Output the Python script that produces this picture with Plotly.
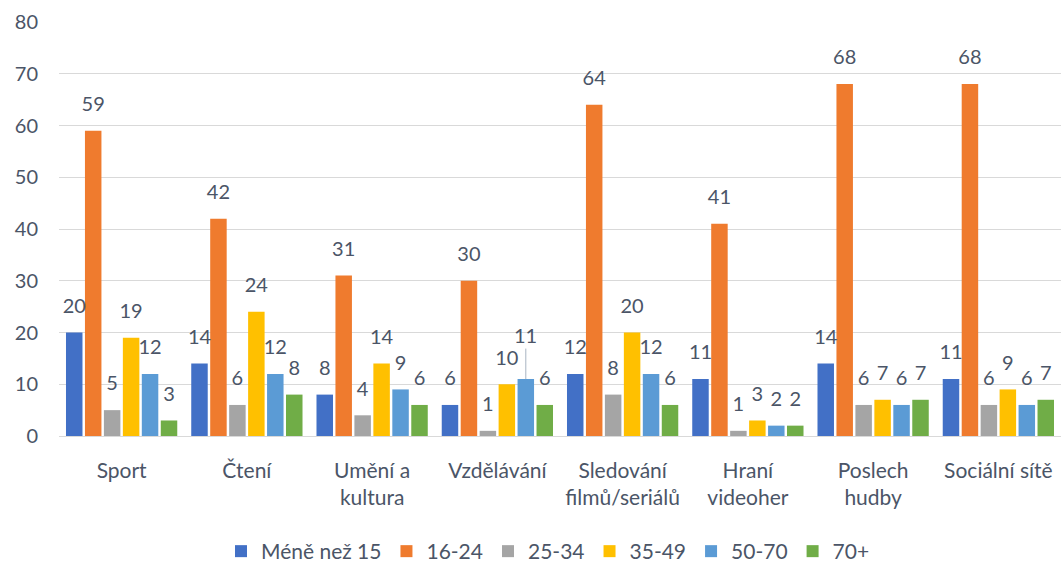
import plotly.graph_objects as go

categories = ["Sport", "Čtení", "Umění a<br>kultura", "Vzdělávání", "Sledování<br>filmů/seriálů",
              "Hraní<br>videoher", "Poslech<br>hudby", "Sociální sítě"]
series_names = ["Méně než 15", "16-24", "25-34", "35-49", "50-70", "70+"]
v_lt15 = [20, 14, 8, 6, 12, 11, 14, 11]
v_16_24 = [59, 42, 31, 30, 64, 41, 68, 68]
v_25_34 = [5, 6, 4, 1, 8, 1, 6, 6]
v_35_49 = [19, 24, 14, 10, 20, 3, 7, 9]
v_50_70 = [12, 12, 9, 11, 12, 2, 6, 6]
v_70p = [3, 8, 6, 6, 6, 2, 7, 7]
series_values = [v_lt15, v_16_24, v_25_34, v_35_49, v_50_70, v_70p]
colors = ["#4270C6", "#EF7B2E", "#A5A5A5", "#FFC000", "#5B9BD5", "#70AD47"]

# label drawn with a leader line (series index, category index)
leader_label = (4, 3)

text_color = "#4B5567"
font_family = "Lato, Open Sans, sans-serif"
BARGAP = 0.092

fig = go.Figure()
for si, (name, vals, col) in enumerate(zip(series_names, series_values, colors)):
    fig.add_trace(go.Bar(
        x=categories, y=vals, name=name, offsetgroup=str(si), alignmentgroup="b",
        marker=dict(color=col, line=dict(width=0)),
        hoverinfo="x+y+name",
    ))
for si, (name, vals) in enumerate(zip(series_names, series_values)):
    labels = ["" if (si, ci) == leader_label else str(v) for ci, v in enumerate(vals)]
    fig.add_trace(go.Scatter(
        x=categories, y=vals, mode="markers+text", text=labels,
        textposition="top center", offsetgroup=str(si), alignmentgroup="s",
        marker=dict(size=22, opacity=0), showlegend=False, hoverinfo="skip",
        textfont=dict(size=20, color=text_color, family=font_family),
        cliponaxis=False,
    ))

# leader-line label
ls, lc = leader_label
n = len(series_names)
slot = (1 - BARGAP) / n
lx = lc - (1 - BARGAP) / 2 + slot * (ls + 0.5)
fig.add_annotation(x=lx, y=series_values[ls][lc], text=str(series_values[ls][lc]),
                   showarrow=True, arrowhead=0, arrowwidth=1, arrowcolor="#A9B4C2",
                   ax=0, ay=-44, standoff=0,
                   font=dict(size=20, color=text_color, family=font_family))

fig.update_layout(
    barmode="group",
    bargap=BARGAP,
    bargroupgap=0.13,
    scattermode="group",
    scattergap=BARGAP,
    width=1061, height=572,
    margin=dict(l=59, r=0, t=22, b=124),
    plot_bgcolor="white", paper_bgcolor="white",
    font=dict(family=font_family, size=21, color=text_color),
    showlegend=True,
    legend=dict(orientation="h", x=0.488, xanchor="center", y=-0.28, yanchor="middle",
                font=dict(size=21, color=text_color), itemwidth=30, traceorder="normal"),
)
fig.update_yaxes(range=[0, 80], dtick=10, showgrid=True, gridcolor="#D9D9D9", gridwidth=1,
                 zeroline=True, zerolinecolor="#D9D9D9", zerolinewidth=1,
                 tickfont=dict(size=20, color=text_color), ticks="",
                 showline=False, automargin=False, ticklabelstandoff=20)
fig.update_xaxes(range=[-0.5, len(categories) - 0.5], autorange=False,
                 showline=False, ticks="", tickfont=dict(size=21, color=text_color), tickangle=0,
                 automargin=False, ticklabelstandoff=20)

fig.write_html("out.html", config={"displayModeBar": False},
               post_script="document.body.style.margin='0';document.body.style.overflow='hidden';")
